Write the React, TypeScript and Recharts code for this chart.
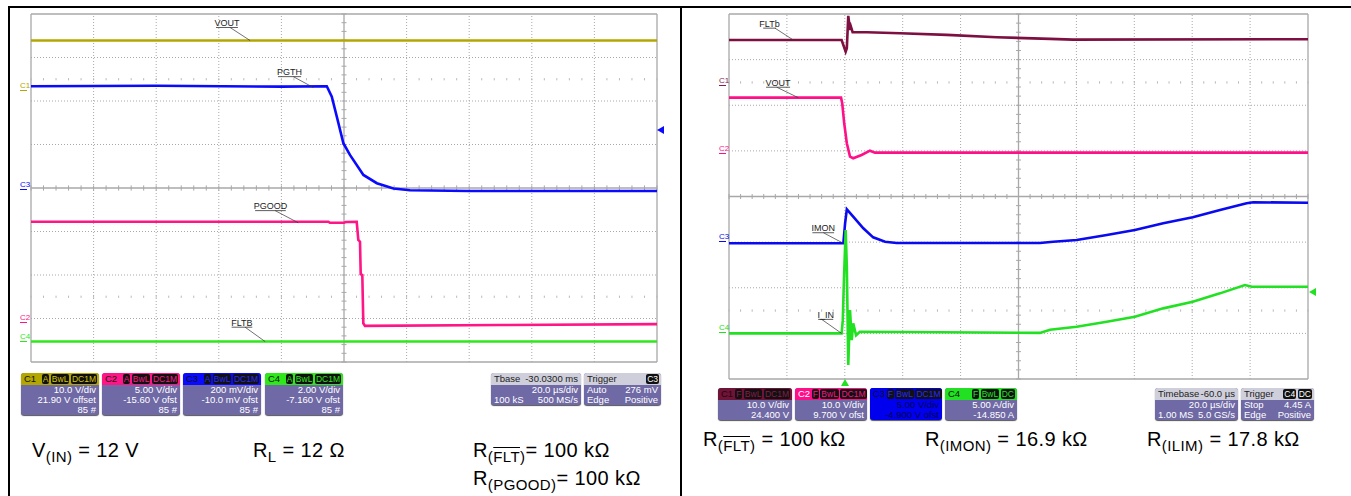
import { LineChart, Line, XAxis, YAxis, ReferenceLine } from "recharts";
import type { ReactNode } from "react";

type Pt = { t: number; v: number };

// time in µs (20 µs/div, 0 = screen centre), level in divisions from screen centre
const L_VOUT: Pt[] = [{ t: -100, v: 3.39 }, { t: 100, v: 3.39 }];
const L_PGTH: Pt[] = [
  { t: -100, v: 2.34 }, { t: -60, v: 2.35 }, { t: -20, v: 2.33 }, { t: -5.5, v: 2.34 },
  { t: -3.9, v: 2.1 }, { t: -2.3, v: 1.64 }, { t: -0.2, v: 1.03 }, { t: 1.9, v: 0.76 },
  { t: 6.2, v: 0.3 }, { t: 10.5, v: 0.11 }, { t: 15.8, v: -0.01 }, { t: 21.1, v: -0.05 },
  { t: 40, v: -0.07 }, { t: 100, v: -0.07 },
];
const L_PGOOD: Pt[] = [
  { t: -100, v: -0.775 }, { t: -5, v: -0.775 }, { t: -4.5, v: -0.8 }, { t: 0, v: -0.8 },
  { t: 0.5, v: -0.78 }, { t: 4.06, v: -0.775 }, { t: 4.57, v: -1.195 }, { t: 5.11, v: -1.234 },
  { t: 5.34, v: -1.98 }, { t: 5.85, v: -2.0 }, { t: 6.17, v: -3.11 }, { t: 6.71, v: -3.17 },
  { t: 50, v: -3.15 }, { t: 100, v: -3.13 },
];
const L_FLTB: Pt[] = [{ t: -100, v: -3.53 }, { t: 100, v: -3.53 }];

const R_FLTB: Pt[] = [
  { t: -100, v: 3.43 }, { t: -61.1, v: 3.43 }, { t: -59.7, v: 3.175 }, { t: -59.3, v: 3.25 },
  { t: -58.8, v: 3.958 }, { t: -58.2, v: 3.651 }, { t: -57.9, v: 3.724 }, { t: -57.3, v: 3.601 },
  { t: -52.4, v: 3.601 }, { t: -40.9, v: 3.579 }, { t: -24.8, v: 3.542 }, { t: -7.5, v: 3.491 },
  { t: 10.9, v: 3.454 }, { t: 18.8, v: 3.439 }, { t: 100, v: 3.447 },
];
const R_VOUT: Pt[] = [
  { t: -100, v: 2.167 }, { t: -61.3, v: 2.167 }, { t: -60.9, v: 2.044 }, { t: -60.2, v: 1.605 },
  { t: -59.3, v: 1.167 }, { t: -58.2, v: 0.873 }, { t: -57.1, v: 0.838 }, { t: -54.2, v: 0.91 },
  { t: -51.3, v: 1.004 }, { t: -49.6, v: 0.961 }, { t: 100, v: 0.961 },
];
const R_IMON: Pt[] = [
  { t: -100, v: -1.026 }, { t: -60.5, v: -1.026 }, { t: -59.9, v: -0.588 }, { t: -59.3, v: -0.281 },
  { t: -57.1, v: -0.443 }, { t: -53.6, v: -0.697 }, { t: -50.2, v: -0.895 }, { t: -46.1, v: -0.991 },
  { t: -42.1, v: -1.02 }, { t: 7.4, v: -1.02 }, { t: 12.0, v: -0.991 }, { t: 20.1, v: -0.954 },
  { t: 30.5, v: -0.844 }, { t: 40.2, v: -0.735 }, { t: 50.0, v: -0.588 }, { t: 60.2, v: -0.456 },
  { t: 69.6, v: -0.296 }, { t: 78.8, v: -0.149 }, { t: 81.1, v: -0.127 }, { t: 100, v: -0.136 },
];
const R_IIN: Pt[] = [
  { t: -100, v: -3.0 }, { t: -61.1, v: -3.0 }, { t: -60.7, v: -2.71 }, { t: -60.3, v: -1.83 },
  { t: -59.7, v: -0.735 }, { t: -59.3, v: -1.54 }, { t: -58.8, v: -3.69 }, { t: -58.2, v: -2.49 },
  { t: -57.6, v: -3.147 }, { t: -57.1, v: -2.78 }, { t: -56.1, v: -3.04 }, { t: -54.8, v: -2.965 },
  { t: 7.4, v: -2.99 }, { t: 10.9, v: -2.92 }, { t: 20.1, v: -2.855 }, { t: 30.5, v: -2.745 },
  { t: 40.2, v: -2.636 }, { t: 50.0, v: -2.452 }, { t: 60.2, v: -2.307 }, { t: 69.6, v: -2.123 },
  { t: 78.2, v: -1.941 }, { t: 80.6, v: -1.978 }, { t: 100, v: -1.978 },
];

// screen graticule
const DIV_T = [-100, -80, -60, -40, -20, 0, 20, 40, 60, 80, 100];
const DIV_V = [-4, -3, -2, -1, 0, 1, 2, 3, 4];
const SUB_T = Array.from({ length: 51 }, (_, i) => -100 + i * 4);
const SUB_V = Array.from({ length: 41 }, (_, i) => -4 + i * 0.2);

type Trace = { name: string; data: Pt[]; color: string };
type Note = { text: string; x1: number; x2: number; y: number; lx: number; tx: number; tv: number };

const LEFT_TRACES: Trace[] = [
  { name: "VOUT", data: L_VOUT, color: "#b3a600" },
  { name: "PGTH", data: L_PGTH, color: "#0a0aff" },
  { name: "PGOOD", data: L_PGOOD, color: "#ff1585" },
  { name: "FLTB", data: L_FLTB, color: "#2ee81a" },
];
const LEFT_NOTES: Note[] = [
  { text: "VOUT", x1: -40.9, x2: -33.9, y: 3.69, lx: -36.4, tx: -30, tv: 3.39 },
  { text: "PGTH", x1: -21.1, x2: -13.7, y: 2.56, lx: -16.2, tx: -9.8, tv: 2.31 },
  { text: "PGOOD", x1: -28.4, x2: -18.6, y: -0.52, lx: -22, tx: -14.6, tv: -0.8 },
  { text: "FLTB", x1: -35.9, x2: -29.3, y: -3.2, lx: -31.6, tx: -25.2, tv: -3.53 },
];
const RIGHT_TRACES: Trace[] = [
  { name: "FLTb", data: R_FLTB, color: "#7d1040" },
  { name: "VOUT", data: R_VOUT, color: "#ff1088" },
  { name: "IMON", data: R_IMON, color: "#0a0af0" },
  { name: "I_IN", data: R_IIN, color: "#22e022" },
];
const RIGHT_NOTES: Note[] = [
  { text: "FLTb", x1: -88.2, x2: -83.8, y: 3.69, lx: -84.1, tx: -77.8, tv: 3.43 },
  { text: "VOUT", x1: -87.2, x2: -78.9, y: 2.395, lx: -83.5, tx: -76.1, tv: 2.167 },
  { text: "IMON", x1: -71.2, x2: -63.7, y: -0.794, lx: -67.4, tx: -60.5, tv: -1.026 },
  { text: "I_IN", x1: -69.2, x2: -64, y: -2.693, lx: -68, tx: -61.1, tv: -3.0 },
];

const FONT = '"Liberation Sans", Arial, sans-serif';

function Scope({ left, top, width, height, traces, notes, tickT, tickV }: {
  left: number; top: number; width: number; height: number;
  traces: Trace[]; notes: Note[]; tickT: number; tickV: number;
}) {
  const grid = "#a8a8a8";
  return (
    <div style={{ position: "absolute", left: left - 2, top: top - 2 }}>
      <LineChart width={width + 4} height={height + 4} margin={{ top: 2, right: 2, bottom: 2, left: 2 }}>
        <XAxis type="number" dataKey="t" domain={[-100, 100]} hide allowDataOverflow />
        <YAxis type="number" dataKey="v" domain={[-4, 4]} hide allowDataOverflow />
        {DIV_T.map((t) => (
          <ReferenceLine key={`gx${t}`} x={t} stroke={grid}
            strokeWidth={t === 0 || Math.abs(t) === 100 ? 1.3 : 1}
            strokeDasharray={t === 0 || Math.abs(t) === 100 ? undefined : "1 2"} />
        ))}
        {DIV_V.map((v) => (
          <ReferenceLine key={`gy${v}`} y={v} stroke={grid}
            strokeWidth={v === 0 || Math.abs(v) === 4 ? 1.3 : 1}
            strokeDasharray={v === 0 || Math.abs(v) === 4 ? undefined : "1 2"} />
        ))}
        {SUB_T.map((t) => (
          <ReferenceLine key={`tx${t}`} stroke={grid}
            segment={[{ x: t, y: -tickV }, { x: t, y: tickV }]} />
        ))}
        {SUB_V.map((v) => (
          <ReferenceLine key={`ty${v}`} stroke={grid}
            segment={[{ x: -tickT, y: v }, { x: tickT, y: v }]} />
        ))}
        {SUB_T.map((t) => [2.5, -2.5].map((v) => (
          <ReferenceLine key={`d${t}_${v}`} stroke="#b8b8b8"
            segment={[{ x: t, y: v - 0.025 }, { x: t, y: v + 0.025 }]} />
        )))}
        {traces.map((tr) => (
          <Line key={tr.name} name={tr.name} data={tr.data} dataKey="v" type="linear"
            stroke={tr.color} strokeWidth={2.6} dot={false} isAnimationActive={false} />
        ))}
        {notes.map((n) => (
          <ReferenceLine key={`u${n.text}`} stroke="#333" strokeWidth={0.8}
            segment={[{ x: n.x1, y: n.y }, { x: n.x2, y: n.y }]}
            label={{ value: n.text, position: "top", offset: 1.5, fontSize: 9, fill: "#222" }} />
        ))}
        {notes.map((n) => (
          <ReferenceLine key={`l${n.text}`} stroke="#333" strokeWidth={0.7}
            segment={[{ x: n.lx, y: n.y }, { x: n.tx, y: n.tv }]} />
        ))}
      </LineChart>
    </div>
  );
}

function ChanTag({ x, y, label, color }: { x: number; y: number; label: string; color: string }) {
  return (
    <div style={{ position: "absolute", left: x, top: y, color, fontSize: 8, lineHeight: "7px" }}>
      {label}
      <div style={{ width: 7, borderBottom: `1.5px solid ${color}`, marginTop: 1 }} />
    </div>
  );
}

function Tri({ x, y, color, dir }: { x: number; y: number; color: string; dir: "left" | "up" }) {
  const pts = dir === "left" ? "0,4 7,0 7,8" : "4,0 8,7 0,7";
  return (
    <svg style={{ position: "absolute", left: x, top: y }} width={8} height={8}>
      <polygon points={pts} fill={color} />
    </svg>
  );
}

function InfoBox({ x, y, w, head, headRight, headBg, headColor, badges, badgeColor, rows, bodyBg, bodyColor }: {
  x: number; y: number; w: number; head: string; headRight?: string; headBg: string; headColor: string;
  badges: string[]; badgeColor: string; rows: [string, string][];
  bodyBg?: string; bodyColor?: string;
}) {
  return (
    <div style={{
      position: "absolute", left: x, top: y, width: w, borderRadius: 3, overflow: "hidden",
      background: bodyBg ?? "#6f69a5", boxShadow: "0 1px 1px #555", fontSize: 9.5, fontFamily: FONT,
    }}>
      <div style={{
        height: 12, background: headBg, color: headColor, display: "flex", alignItems: "center",
        padding: "0 2px 0 3px", lineHeight: "12px",
      }}>
        <span style={{ flex: 1, whiteSpace: "nowrap" }}>{head}</span>
        {headRight && <span style={{ whiteSpace: "nowrap", paddingRight: 1 }}>{headRight}</span>}
        {badges.map((b) => (
          <span key={b} style={{
            background: "#111", color: badgeColor, borderRadius: 2, padding: "0 1px",
            marginLeft: 1.5, fontSize: 8.5, lineHeight: "10px",
          }}>{b}</span>
        ))}
      </div>
      {rows.map((r, i) => (
        <div key={i} style={{
          display: "flex", justifyContent: "space-between", padding: "0 3px 0 3px",
          color: bodyColor ?? "#fff", lineHeight: "10px", height: 10, whiteSpace: "nowrap",
        }}>
          <span>{r[0]}</span><span>{r[1]}</span>
        </div>
      ))}
    </div>
  );
}

const SUBS = { fontSize: 15, position: "relative" as const, top: 5 };

function Caption({ x, top, children }: { x: number; top: number; children: ReactNode }) {
  return (
    <div style={{
      position: "absolute", left: x, top, fontSize: 20, lineHeight: "20px", whiteSpace: "nowrap",
      fontFamily: FONT, color: "#000", letterSpacing: 0.4,
    }}>{children}</div>
  );
}

export default function App() {
  return (
    <div style={{
      position: "absolute", left: 0, top: 0, width: 1351, height: 496, background: "#fff",
      fontFamily: FONT, overflow: "hidden",
    }}>
      <div style={{ position: "absolute", left: 8, top: 6, width: 1343, height: 1.5, background: "#000" }} />
      <div style={{ position: "absolute", left: 8, top: 6, width: 1.5, height: 490, background: "#000" }} />
      <div style={{ position: "absolute", left: 680, top: 6, width: 1.5, height: 490, background: "#000" }} />

      <Scope left={31} top={14} width={626} height={348} traces={LEFT_TRACES} notes={LEFT_NOTES}
        tickT={0.8} tickV={0.06} />
      <ChanTag x={20} y={82} label="C1" color="#b3a600" />
      <ChanTag x={20} y={181} label="C3" color="#0a0aff" />
      <ChanTag x={20} y={314} label="C2" color="#ff1585" />
      <ChanTag x={20} y={333} label="C4" color="#2ee81a" />
      <Tri x={657} y={126} color="#0a0aff" dir="left" />

      <InfoBox x={21} y={373} w={78} head="C1" headBg="#b3a600" headColor="#111" badgeColor="#d8c800"
        badges={["A", "BwL", "DC1M"]} rows={[["", "10.0 V/div"], ["", "21.90 V offset"], ["", "85 #"]]} />
      <InfoBox x={102} y={373} w={78} head="C2" headBg="#ff1585" headColor="#111" badgeColor="#ff1585"
        badges={["A", "BwL", "DC1M"]} rows={[["", "5.00 V/div"], ["", "-15.60 V ofst"], ["", "85 #"]]} />
      <InfoBox x={183} y={373} w={78} head="C3" headBg="#0a0aff" headColor="#111" badgeColor="#2a2aff"
        badges={["A", "BwL", "DC1M"]} rows={[["", "200 mV/div"], ["", "-10.0 mV ofst"], ["", "85 #"]]} />
      <InfoBox x={265} y={373} w={78} head="C4" headBg="#2ee81a" headColor="#111" badgeColor="#2ee81a"
        badges={["A", "BwL", "DC1M"]} rows={[["", "2.00 V/div"], ["", "-7.160 V ofst"], ["", "85 #"]]} />
      <InfoBox x={491} y={373} w={90} head="Tbase" headRight="-30.0300 ms" headBg="#cfcfdc" headColor="#222"
        badgeColor="#fff" badges={[]} rows={[["", "20.0 µs/div"], ["100 kS", "500 MS/s"]]} />
      <InfoBox x={584} y={373} w={77} head="Trigger" headBg="#cfcfdc" headColor="#222" badgeColor="#fff"
        badges={["C3"]} rows={[["Auto", "276 mV"], ["Edge", "Positive"]]} />

      <Caption x={32} top={440}>V<span style={SUBS}>(IN)</span> = 12 V</Caption>
      <Caption x={253} top={440}>R<span style={SUBS}>L</span> = 12 Ω</Caption>
      <Caption x={473} top={440}>
        R<span style={SUBS}>(<span style={{ textDecoration: "overline" }}>FLT</span>)</span>= 100 kΩ
      </Caption>
      <Caption x={473} top={468}>R<span style={SUBS}>(PGOOD)</span>= 100 kΩ</Caption>

      <Scope left={729} top={14} width={579} height={365} traces={RIGHT_TRACES} notes={RIGHT_NOTES}
        tickT={0.85} tickV={0.055} />
      <ChanTag x={719} y={77} label="C1" color="#8a1a4a" />
      <ChanTag x={719} y={145} label="C2" color="#ff1088" />
      <ChanTag x={719} y={233} label="C3" color="#0a0af0" />
      <ChanTag x={719} y={324} label="C4" color="#22e022" />
      <Tri x={1309} y={288} color="#22e022" dir="left" />
      <Tri x={841} y={379} color="#22e022" dir="up" />

      <InfoBox x={718} y={388} w={74} head="C1" headBg="#6e1436" headColor="#2a0010" badgeColor="#8a1a4a"
        badges={["F", "BwL", "DC1M"]} rows={[["", "10.0 V/div"], ["", "24.400 V"]]} />
      <InfoBox x={795} y={388} w={72} head="C2" headBg="#ff1088" headColor="#fff" badgeColor="#ff1088"
        badges={["F", "BwL", "DC1M"]} rows={[["", "10.0 V/div"], ["", "9.700 V ofst"]]} />
      <InfoBox x={870} y={388} w={72} head="C3" headBg="#0000ee" headColor="#111" badgeColor="#2a2aff"
        badges={["F", "BwL", "DC1M"]} bodyBg="#0000ee" bodyColor="#000050"
        rows={[["", "5.00 V/div"], ["", "-4.900 V ofst"]]} />
      <InfoBox x={945} y={388} w={72} head="C4" headBg="#22e022" headColor="#111" badgeColor="#22e022"
        badges={["F", "BwL", "DC"]} rows={[["", "5.00 A/div"], ["", "-14.850 A"]]} />
      <InfoBox x={1155} y={388} w={83} head="Timebase" headRight="-60.0 µs" headBg="#cfcfdc" headColor="#222"
        badgeColor="#fff" badges={[]} rows={[["", "20.0 µs/div"], ["1.00 MS", "5.0 GS/s"]]} />
      <InfoBox x={1241} y={388} w={73} head="Trigger" headBg="#cfcfdc" headColor="#222" badgeColor="#fff"
        badges={["C4", "DC"]} rows={[["Stop", "4.45 A"], ["Edge", "Positive"]]} />

      <Caption x={703} top={429}>
        R<span style={SUBS}>(<span style={{ textDecoration: "overline" }}>FLT</span>)</span> = 100 kΩ
      </Caption>
      <Caption x={925} top={429}>R<span style={SUBS}>(IMON)</span> = 16.9 kΩ</Caption>
      <Caption x={1147} top={429}>R<span style={SUBS}>(ILIM)</span> = 17.8 kΩ</Caption>
    </div>
  );
}
